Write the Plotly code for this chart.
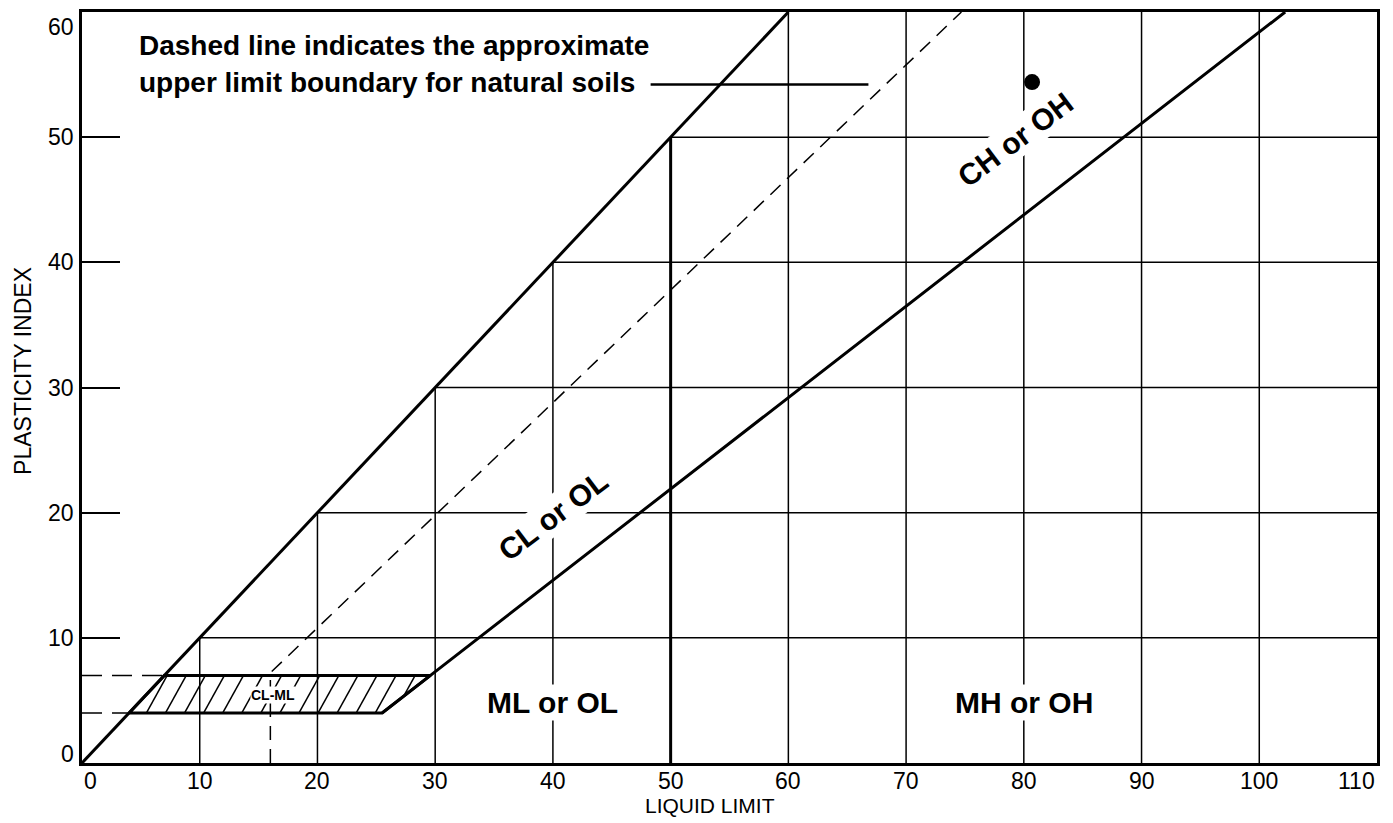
import plotly.graph_objects as go

# ---------------- data ----------------
ll_ticks = [0, 10, 20, 30, 40, 50, 60, 70, 80, 90, 100, 110]
pi_ticks = [0, 10, 20, 30, 40, 50, 60]

# upper physical limit line (PI = LL)
upper_ll = [0, 60]
upper_pi = [0, 60]

# A-line  (PI = 0.73 (LL - 20)), drawn from PI = 4
a_line_ll = [25.5, 29.6, 102.2]
a_line_pi = [4, 7, 60]

# U-line (dashed, upper limit for natural soils)
u_line_ll = [16, 16, 74.7]
u_line_pi = [0, 7.2, 60]

# LL = 50 boundary
ll50_ll = [50, 50]
ll50_pi = [0, 50]

# CL-ML hatched zone (bottom PI, top PI, corners)
clml_ll = [4, 25.5, 29.6, 7, 4]
clml_pi = [4, 4, 7, 7, 4]

# dashed guide lines at PI = 4 and PI = 7
guide4_ll = [0, 4]
guide4_pi = [4, 4]
guide7_ll = [0, 7]
guide7_pi = [7, 7]

# leader line of the note
leader_ll = [48.3, 66.8]
leader_pi = [54.2, 54.2]

# sample point
sample_ll = [80.7]
sample_pi = [54.4]

region_labels = ["CL or OL", "CH or OH", "ML or OL", "MH or OH"]
region_ll = [40.0, 79.3, 40.0, 80.0]
region_pi = [19.8, 49.8, 4.8, 4.8]
region_angle = [-37, -37, 0, 0]

note_lines = ["Dashed line indicates the approximate", "upper limit boundary for natural soils"]
note_ll = 4.7
note_pi = [57.3, 54.4]

FONT = "Liberation Sans, Arial, Helvetica, sans-serif"

fig = go.Figure()

# partial grid lines (only below the PI = LL line)
shapes = []
for v in ll_ticks[1:-1]:
    if v == 50:
        continue
    shapes.append(dict(type="line", xref="x", yref="y", x0=v, x1=v, y0=0, y1=min(v, 60),
                       line=dict(color="black", width=1.5), layer="below"))
for h in pi_ticks[1:-1]:
    shapes.append(dict(type="line", xref="x", yref="y", x0=h, x1=110, y0=h, y1=h,
                       line=dict(color="black", width=1.5), layer="below"))

# hatch lines clipped to the CL-ML parallelogram
y_lo, y_hi = clml_pi[0], clml_pi[2]
left_bottom, right_bottom = clml_ll[0], clml_ll[1]
left_slope = (clml_pi[3] - clml_pi[0]) / (clml_ll[3] - clml_ll[0])      # dy/dx of left edge
right_slope = (clml_pi[2] - clml_pi[1]) / (clml_ll[2] - clml_ll[1])     # dy/dx of right edge
k = 1.7          # hatch steepness (data units)
step = 1.62
hx, hy = [], []
c = left_bottom - (y_hi - y_lo) / k
while c < clml_ll[2]:
    # hatch line: x = c + (y - y_lo)/k
    a = 1.0 / k - 1.0 / left_slope
    b = 1.0 / right_slope - 1.0 / k
    ylo = max(y_lo, y_lo - (right_bottom - c) / b)
    yhi = min(y_hi, y_lo + (c - left_bottom) / (-a)) if a < 0 else y_hi
    if yhi - ylo > 0.05:
        hx += [c + (ylo - y_lo) / k, c + (yhi - y_lo) / k, None]
        hy += [ylo, yhi, None]
    c += step
fig.add_trace(go.Scatter(x=hx, y=hy, mode="lines", line=dict(color="black", width=1.5),
                         hoverinfo="skip", showlegend=False))


def line(x, y, width=3, dash=None):
    fig.add_trace(go.Scatter(x=x, y=y, mode="lines",
                             line=dict(color="black", width=width, dash=dash),
                             hoverinfo="skip", showlegend=False))


line(clml_ll, clml_pi, 3)
line(upper_ll, upper_pi, 3)
line(a_line_ll, a_line_pi, 3)
line(ll50_ll, ll50_pi, 3)
line(u_line_ll, u_line_pi, 1.5, "14px,9px")
line(guide4_ll, guide4_pi, 1.5, "20px,10px")
line(guide7_ll, guide7_pi, 1.5, "20px,10px")
line(leader_ll, leader_pi, 2.5)

fig.add_trace(go.Scatter(x=sample_ll, y=sample_pi, mode="markers",
                         marker=dict(color="black", size=16),
                         hoverinfo="skip", showlegend=False))

annotations = []
for t, x, y, a in zip(region_labels, region_ll, region_pi, region_angle):
    annotations.append(dict(x=x, y=y, xref="x", yref="y", text="<b>%s</b>" % t,
                            textangle=a, showarrow=False, bgcolor="white",
                            font=dict(family=FONT, size=30, color="black"), borderpad=1))
annotations.append(dict(x=16.2, y=5.4, xref="x", yref="y", text="<b>CL-ML</b>",
                        showarrow=False, bgcolor="white", borderpad=0,
                        font=dict(family=FONT, size=14, color="black")))
for t, y in zip(note_lines, note_pi):
    annotations.append(dict(x=note_ll, y=y, xref="x", yref="y", text="<b>%s</b>" % t,
                            showarrow=False, xanchor="left", yanchor="middle", align="left",
                            font=dict(family=FONT, size=28, color="black")))
# x tick labels
for i, v in enumerate(ll_ticks):
    anchor = "left" if i == 0 else ("right" if i == len(ll_ticks) - 1 else "center")
    annotations.append(dict(x=v, y=0, xref="x", yref="paper", text=str(v), showarrow=False,
                            xanchor=anchor, yanchor="top", yshift=-3,
                            font=dict(family=FONT, size=23, color="black")))
# y tick labels
for i, v in enumerate(pi_ticks):
    yanc = "bottom" if i == 0 else ("top" if i == len(pi_ticks) - 1 else "middle")
    annotations.append(dict(x=0, y=v, xref="paper", yref="y", text=str(v), showarrow=False,
                            xanchor="right", yanchor=yanc, xshift=-6,
                            yshift=(-6 if i == 0 else 0),
                            font=dict(family=FONT, size=23, color="black")))
# axis titles
annotations.append(dict(x=0.485, y=-0.039, xref="paper", yref="paper", text="LIQUID LIMIT",
                        showarrow=False, xanchor="center", yanchor="top",
                        font=dict(family=FONT, size=21, color="black")))
annotations.append(dict(x=-0.0456, y=0.522, xref="paper", yref="paper", text="PLASTICITY INDEX",
                        showarrow=False, xanchor="center", yanchor="middle", textangle=-90,
                        font=dict(family=FONT, size=23, color="black")))

fig.update_layout(
    width=1385, height=815,
    margin=dict(l=74, r=16, t=4, b=60, autoexpand=False),
    paper_bgcolor="white", plot_bgcolor="white",
    shapes=shapes, annotations=annotations,
    xaxis=dict(range=[0, 110], showgrid=False, zeroline=False, showline=True, mirror=True,
               linecolor="black", linewidth=3, showticklabels=False, ticks="",
               fixedrange=True),
    yaxis=dict(range=[0, 60], showgrid=False, zeroline=False, showline=True, mirror=True,
               linecolor="black", linewidth=3, tickvals=pi_ticks, ticks="inside",
               ticklen=38, tickwidth=1.5, tickcolor="black", showticklabels=False,
               fixedrange=True),
)

fig.write_html("out.html")
